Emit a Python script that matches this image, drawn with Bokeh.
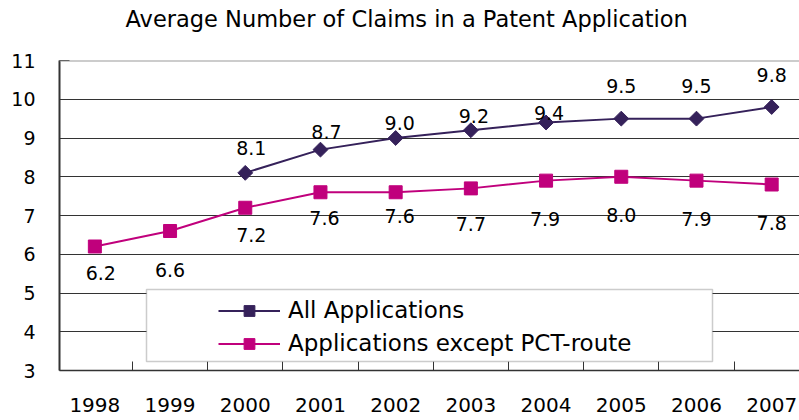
import numpy as np
import pandas as pd
from bokeh.plotting import figure
from bokeh.models import (ColumnDataSource, FixedTicker, Span, BoxAnnotation,
                          Legend, LegendItem, Range1d, Title)
from bokeh.core.properties import value
from bokeh.embed import file_html
from bokeh.resources import INLINE

# ---- data ----
years = [1998, 1999, 2000, 2001, 2002, 2003, 2004, 2005, 2006, 2007]
all_apps = [None, None, 8.1, 8.7, 9.0, 9.2, 9.4, 9.5, 9.5, 9.8]
except_pct = [6.2, 6.6, 7.2, 7.6, 7.6, 7.7, 7.9, 8.0, 7.9, 7.8]
y_ticks = [3, 4, 5, 6, 7, 8, 9, 10, 11]
series_names = ["All Applications", "Applications except PCT-route"]
title_text = "Average Number of Claims in a Patent Application"

# ---- label placement (screen px, style only) ----
all_label_dx = [0, 0, 6, 6, 4, 3, 3, 0, 0, 0]
all_label_dy = [0, 0, -25, -18, -15, -14, -10, -33, -33, -32]
pct_label_dx = [6, 0, 6, 4, 4, 0, -1, 0, 0, 0]
pct_label_dy = [26, 39, 27, 26, 24, 36, 38, 38, 38, 38]

PURPLE = "#35215a"
MAGENTA = "#c0007c"
FONT = "DejaVu Sans"

df_all = pd.DataFrame({"year": years, "v": all_apps,
                       "dx": all_label_dx, "dy": all_label_dy}).dropna()
df_all["label"] = df_all["v"].map(lambda v: f"{v:.1f}")
df_pct = pd.DataFrame({"year": years, "v": except_pct,
                       "dx": pct_label_dx, "dy": pct_label_dy})
df_pct["label"] = df_pct["v"].map(lambda v: f"{v:.1f}")
src_all = ColumnDataSource(df_all)
src_pct = ColumnDataSource(df_pct)

p = figure(width=799, height=420, title=title_text,
           x_range=Range1d(years[0] - 0.47, years[-1] + 0.37),
           y_range=Range1d(y_ticks[0], y_ticks[-1]),
           output_backend="svg", toolbar_location=None,
           min_border_left=59, min_border_right=0,
           min_border_top=60, min_border_bottom=50)
p.outline_line_color = None
p.background_fill_color = "white"

# title
p.title.text_font = FONT
p.title.text_font_size = "22.5px"
p.title.text_font_style = "normal"
p.title.text_color = "black"
p.title.align = "left"
p.title.offset = 66
p.title.vertical_align = "top"
p.title.standoff = 0
# blank spacer panel between title and plot area
p.add_layout(Title(text=" ", text_font=FONT, text_font_size="20px",
                   standoff=1), "above")

# x axis
p.xaxis.ticker = FixedTicker(ticks=years,
                             minor_ticks=[y + 0.5 for y in years[:-1]])
p.xaxis.major_tick_in = 0
p.xaxis.major_tick_out = 0
p.xaxis.minor_tick_in = 9
p.xaxis.minor_tick_out = 0
p.xaxis.minor_tick_line_color = "#333333"
p.xaxis.axis_line_color = "#333333"
p.xaxis.axis_line_width = 1.5
p.xaxis.major_label_text_font = FONT
p.xaxis.major_label_text_font_size = "20px"
p.xaxis.major_label_text_color = "black"
p.xaxis.major_label_standoff = 27

# y axis
p.yaxis.ticker = FixedTicker(ticks=y_ticks)
p.yaxis.major_tick_in = 10
p.yaxis.major_tick_out = 0
p.yaxis.minor_tick_line_color = None
p.yaxis.major_tick_line_color = "#333333"
p.yaxis.axis_line_color = "#333333"
p.yaxis.axis_line_width = 2
p.yaxis.major_label_text_font = FONT
p.yaxis.major_label_text_font_size = "19px"
p.yaxis.major_label_text_color = "black"
p.yaxis.major_label_standoff = 24

# grid
p.xgrid.visible = False
p.ygrid.ticker = FixedTicker(ticks=y_ticks[1:-1])
p.ygrid.grid_line_color = "#333333"
p.ygrid.grid_line_width = 1
p.add_layout(Span(location=y_ticks[-1], dimension="width",
                  line_color="#999999", line_width=2))

# series
l_pct = p.line("year", "v", source=src_pct, line_color=MAGENTA, line_width=2)
s_pct = p.scatter("year", "v", source=src_pct, marker="square", size=13,
                  fill_color=MAGENTA, line_color=MAGENTA)
l_all = p.line("year", "v", source=src_all, line_color=PURPLE, line_width=2)
s_all = p.scatter("year", "v", source=src_all, marker="square", size=10.5,
                  angle=np.pi / 4, fill_color=PURPLE, line_color=PURPLE)

# data labels
for src in (src_all, src_pct):
    p.text("year", "v", text="label", source=src, x_offset="dx", y_offset="dy",
           text_font=value(FONT), text_font_size="19px", text_color="black",
           text_align="center", text_baseline="middle")

# legend frame
p.add_layout(BoxAnnotation(left=87, right=653, bottom=9, top=81,
                           left_units="screen", right_units="screen",
                           bottom_units="screen", top_units="screen",
                           fill_color="white", fill_alpha=1,
                           line_color="#555555", line_width=1.5))

legend = Legend(items=[LegendItem(label=series_names[0], renderers=[l_all, s_all]),
                       LegendItem(label=series_names[1], renderers=[l_pct, s_pct])],
                location=(159, 13.5), padding=0, spacing=6, margin=0,
                glyph_width=62, glyph_height=27, label_height=27,
                label_standoff=8, label_text_font=FONT,
                label_text_font_size="23px", label_text_color="black",
                background_fill_alpha=0, border_line_color=None)
p.add_layout(legend)

open("out.html", "w").write(file_html(p, INLINE))
